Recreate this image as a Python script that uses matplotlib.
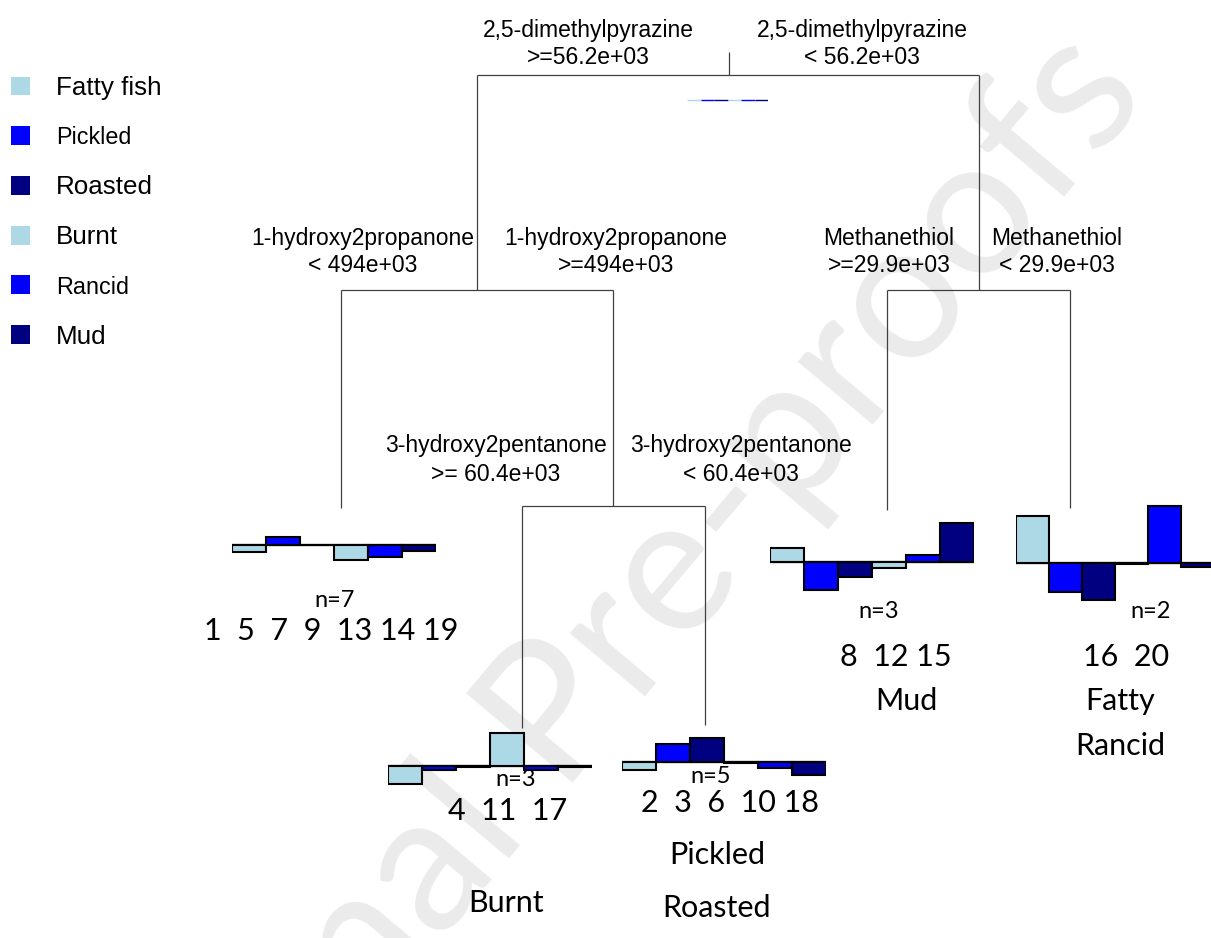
"""
Regression tree of odour classes with per-leaf deviation bar plots
"""

import matplotlib.pyplot as plt
from matplotlib.patches import Patch

W, H = 1211, 938

# attribute classes shown in the leaf bar plots
classes = ["Fatty fish", "Pickled", "Roasted", "Burnt", "Rancid", "Mud"]
class_colors = ["lightblue", "blue", "navy", "lightblue", "blue", "navy"]
legend_sizes = [18.7, 16.8, 18.7, 18.7, 16.8, 18.7]

# split rules, (left branch, right branch)
root_split = (["2,5-dimethylpyrazine", ">=56.2e+03"], ["2,5-dimethylpyrazine", "< 56.2e+03"])
left_split = (["1-hydroxy2propanone", "< 494e+03"], ["1-hydroxy2propanone", ">=494e+03"])
right_split = (["Methanethiol", ">=29.9e+03"], ["Methanethiol", "< 29.9e+03"])
inner_split = (["3-hydroxy2pentanone", ">= 60.4e+03"], ["3-hydroxy2pentanone", "< 60.4e+03"])

# mean deviation of each class in every node
root_means = [0.0, 0.0, 0.0, 0.0, 0.0, 0.0]
leaf_a_means = [-0.18, 0.20, -0.01, -0.38, -0.30, -0.15]
leaf_b_means = [-0.45, -0.10, -0.03, 0.82, -0.10, -0.03]
leaf_c_means = [-0.20, 0.45, 0.60, -0.03, -0.15, -0.32]
leaf_d_means = [0.35, -0.70, -0.38, -0.15, 0.18, 0.98]
leaf_e_means = [1.18, -0.72, -0.92, -0.03, 1.42, -0.10]

# samples and assigned classes per leaf
leaf_a_n, leaf_a_ids, leaf_a_names = 7, "1  5  7  9  13 14 19", []
leaf_b_n, leaf_b_ids, leaf_b_names = 3, "4  11  17", ["Burnt"]
leaf_c_n, leaf_c_ids, leaf_c_names = 5, "2  3  6  10 18", ["Pickled", "Roasted"]
leaf_d_n, leaf_d_ids, leaf_d_names = 3, "8  12 15", ["Mud"]
leaf_e_n, leaf_e_ids, leaf_e_names = 2, "16  20", ["Fatty", "Rancid"]

SPLIT_FONT = "Liberation Sans"
LEAF_FONT = "Lato"
LINE_COLOR = "#404040"

fig = plt.figure(figsize=(W / 100, H / 100), dpi=100)
ax = fig.add_axes([0, 0, 1, 1])
ax.set_xlim(0, W)
ax.set_ylim(H, 0)
ax.axis("off")

# faint diagonal stamp behind the tree
ax.text(1150, 95, "Journal Pre-proofs", color="#ebebeb", fontsize=140,
        family=LEAF_FONT, rotation=50, rotation_mode="anchor",
        ha="right", va="baseline", zorder=0)


def seg(x0, y0, x1, y1):
    ax.plot([x0, x1], [y0, y1], color=LINE_COLOR, lw=0.9, zorder=2,
            solid_capstyle="butt")


def split_label(lines, x, y1, y2, size=16.5):
    ax.text(x, y1, lines[0], ha="center", va="baseline", fontsize=size,
            family=SPLIT_FONT, zorder=3)
    ax.text(x, y2, lines[1], ha="center", va="baseline", fontsize=size,
            family=SPLIT_FONT, zorder=3)


def bars(x0, base, means, bw=34, scale=40, edge=True):
    lim = 1.6
    a = fig.add_axes([x0 / W, 1 - (base + lim * scale) / H,
                      6 * bw / W, 2 * lim * scale / H])
    if edge:
        a.axhline(0, color="black", lw=1.6, zorder=1)
        a.bar(range(6), means, width=1, align="edge", color=class_colors,
              edgecolor="black", linewidth=1.5, zorder=2)
    else:
        a.bar(range(6), means, width=1, align="edge", color=class_colors,
              edgecolor=class_colors, linewidth=1, zorder=2)
    a.set_xlim(0, 6)
    a.set_ylim(-lim, lim)
    a.axis("off")
    return a


def leaf_text(n, nxy, ids, idxy, names, nmxy, step):
    ax.text(nxy[0], nxy[1], f"n={n}", ha="center", va="baseline",
            fontsize=17, family=LEAF_FONT)
    ax.text(idxy[0], idxy[1], ids, ha="center", va="baseline",
            fontsize=22, family=LEAF_FONT)
    for i, name in enumerate(names):
        ax.text(nmxy[0], nmxy[1] + i * step, name, ha="center",
                va="baseline", fontsize=22, family=LEAF_FONT)


# tree skeleton
seg(729, 52, 729, 75)
seg(477, 75, 979, 75)
seg(477, 75, 477, 290)
seg(979, 75, 979, 290)
seg(341, 290, 613, 290)
seg(887, 290, 1070, 290)
seg(341, 290, 341, 508)
seg(613, 290, 613, 506)
seg(522, 506, 705, 506)
seg(522, 506, 522, 728)
seg(705, 506, 705, 725)
seg(887, 290, 887, 510)
seg(1070, 290, 1070, 508)

# split rules
split_label(root_split[0], 588, 37, 64)
split_label(root_split[1], 862, 37, 64)
split_label(left_split[0], 363, 245, 272)
split_label(left_split[1], 616, 245, 272)
split_label(right_split[0], 889, 245, 272)
split_label(right_split[1], 1057, 245, 272)
split_label(inner_split[0], 496, 452, 481)
split_label(inner_split[1], 741, 452, 481)

# node bar plots
bars(687, 100, root_means, bw=13.5, edge=False)
bars(232, 545, leaf_a_means)
bars(388, 766, leaf_b_means)
bars(622, 762, leaf_c_means)
bars(770, 562, leaf_d_means)
bars(1016, 563, leaf_e_means, bw=33)

# leaf annotations
leaf_text(leaf_a_n, (335, 607), leaf_a_ids, (331, 640), leaf_a_names, (0, 0), 0)
leaf_text(leaf_b_n, (516, 786), leaf_b_ids, (508, 820), leaf_b_names, (506, 912), 0)
leaf_text(leaf_c_n, (711, 783), leaf_c_ids, (730, 812), leaf_c_names, (717, 864), 53)
leaf_text(leaf_d_n, (879, 618), leaf_d_ids, (896, 666), leaf_d_names, (906, 710), 0)
leaf_text(leaf_e_n, (1151, 618), leaf_e_ids, (1126, 666), leaf_e_names, (1120, 710), 45)

# class legend
handles = [Patch(facecolor=c, edgecolor="none") for c in class_colors]
leg = ax.legend(handles, classes, loc="upper left",
                bbox_to_anchor=(11 / W, 1 - 76 / H),
                bbox_transform=fig.transFigure, frameon=False,
                prop={"family": SPLIT_FONT, "size": 18.7},
                handlelength=0.73, handleheight=0.73, handletextpad=1.0,
                labelspacing=1.0, borderaxespad=0, borderpad=0)
for t, s in zip(leg.get_texts(), legend_sizes):
    t.set_fontsize(s)

fig.savefig("out.png", dpi=100)
